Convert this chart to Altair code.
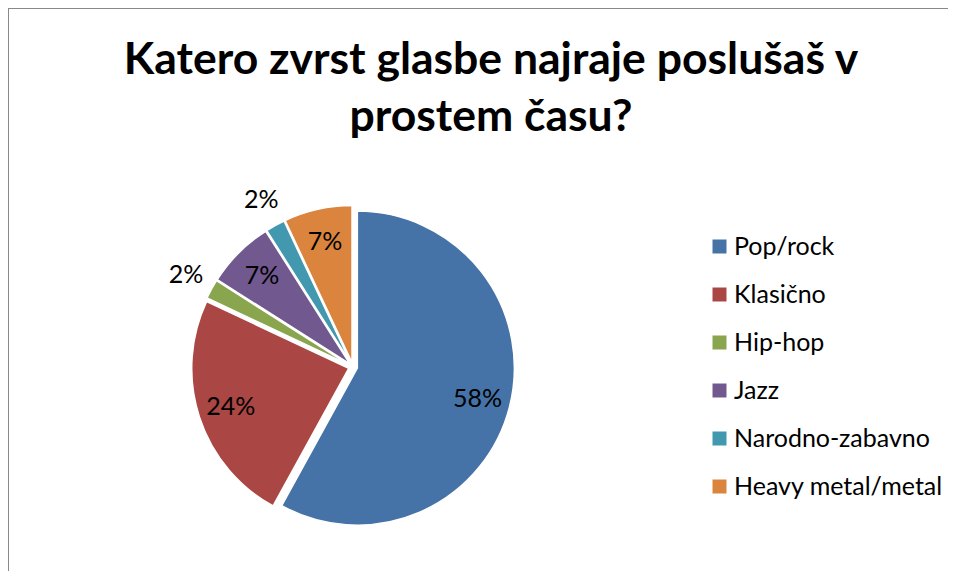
import altair as alt
import pandas as pd

# ---- data ----
title_lines = ["Katero zvrst glasbe najraje poslušaš v", "prostem času?"]
genres = ["Pop/rock", "Klasično", "Hip-hop", "Jazz", "Narodno-zabavno", "Heavy metal/metal"]
shares = [58, 24, 2, 7, 2, 7]
colors = ["#4572A7", "#AA4643", "#89A54E", "#71588F", "#4198AF", "#DB843D"]

df = pd.DataFrame({"genre": genres, "share": shares, "order": list(range(len(genres)))})

# ---- layout ----
W, H = 938, 561
CX, CY = 343, 357      # pie centre in plot coordinates
R = 157                # pie radius
D = 4.5                # explosion distance
FONT = "Lato"

base = (
    alt.Chart(df)
    .transform_joinaggregate(total="sum(share)")
    .transform_window(cum="sum(share)", sort=[alt.SortField("order")], frame=[None, 0])
    .transform_calculate(
        t0="2*PI*(datum.cum - datum.share)/datum.total",
        t1="2*PI*datum.cum/datum.total",
    )
    .transform_calculate(mid="(datum.t0 + datum.t1)/2")
    .transform_calculate(
        cx=f"{CX} + {D}*sin(datum.mid)",
        cy=f"{CY} - {D}*cos(datum.mid)",
        lr=f"datum.share < 5 ? {R + 29} : {0.79 * R}",
        label="format(datum.share/datum.total, '.0%')",
    )
    .transform_calculate(
        lx="datum.cx + datum.lr*sin(datum.mid)",
        ly="datum.cy - datum.lr*cos(datum.mid)",
    )
)

arcs = base.mark_arc(radius=R, stroke="white", strokeWidth=1.5).encode(
    theta=alt.Theta("t0:Q", scale=None),
    theta2="t1:Q",
    x=alt.X("cx:Q", scale=None, axis=None),
    y=alt.Y("cy:Q", scale=None, axis=None),
    color=alt.Color(
        "genre:N",
        scale=alt.Scale(domain=genres, range=colors),
        sort=genres,
        legend=alt.Legend(
            title=None,
            orient="none",
            legendX=697,
            legendY=224,
            symbolType="square",
            symbolSize=196,
            symbolStrokeWidth=0,
            labelFont=FONT,
            labelFontSize=25,
            labelColor="black",
            labelOffset=2,
            rowPadding=22,
            padding=0,
            labelLimit=400,
        ),
    ),
    order=alt.Order("order:Q"),
)

labels = base.mark_text(font=FONT, fontSize=25, color="black", align="center", baseline="middle").encode(
    x=alt.X("lx:Q", scale=None, axis=None),
    y=alt.Y("ly:Q", scale=None, axis=None),
    text="label:N",
)

tdf = pd.DataFrame({"k": [0]})
title = alt.Chart(tdf).mark_text(
    text=title_lines,
    font=FONT,
    fontSize=44.5,
    fontWeight="bold",
    color="black",
    align="center",
    baseline="alphabetic",
    lineHeight=57,
).encode(x=alt.value(481), y=alt.value(64))

top_line = alt.Chart(tdf).mark_rule(color="#898989", strokeWidth=2).encode(
    x=alt.value(-2), x2=alt.value(W), y=alt.value(-2)
)
left_line = alt.Chart(tdf).mark_rule(color="#898989", strokeWidth=2).encode(
    x=alt.value(-2), y=alt.value(-2), y2=alt.value(H)
)

chart = (
    alt.layer(top_line, left_line, arcs, labels, title)
    .properties(
        width=W,
        height=H,
        autosize=alt.AutoSizeParams(type="none"),
        padding={"left": 2, "top": 2, "right": 0, "bottom": 0},
    )
    .configure_view(stroke=None)
)

chart.save("out.html", embed_options={"renderer": "svg", "actions": False})
